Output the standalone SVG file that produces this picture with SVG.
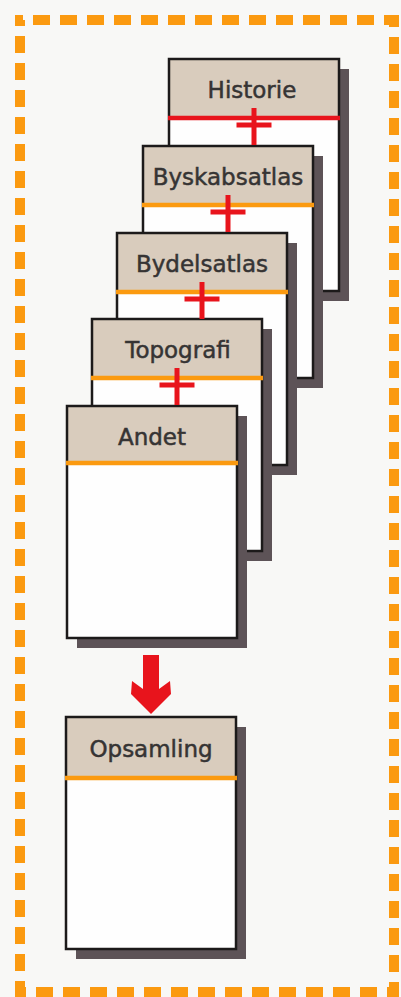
<svg xmlns="http://www.w3.org/2000/svg" width="401" height="997" viewBox="0 0 401 997">
<style>
.bg{fill:#f8f8f6}
.frame{fill:none;stroke:#fb9a10;stroke-width:10;stroke-dasharray:17 10;stroke-dashoffset:14}
.shadow{fill:#5d5357}
.body{fill:#fefefe}
.head{fill:#d9ccbd}
.border{fill:none;stroke:#1c1a1a;stroke-width:2.5}
.hline{stroke:#fb9a10;stroke-width:4.5}
.hline.red{stroke:#e8141c}
.lbl{font-family:"DejaVu Sans","Liberation Sans",sans-serif;font-size:23px;fill:#363434;stroke:#363434;stroke-width:0.5;text-anchor:middle}
.plus{fill:none;stroke:#e8141c;stroke-width:5}
.arrow{fill:#e8141c}
</style>
<rect class="bg" x="0" y="0" width="401" height="997"/>
<rect id="frame" class="frame" x="20" y="20" width="374" height="972"/>

<g id="historie" transform="translate(169,59)">
<rect class="shadow" x="10" y="10" width="170" height="232"/>
<rect class="body" width="170" height="232"/>
<rect class="head" width="170" height="57"/>
<rect class="border" width="170" height="232"/>
<line class="hline red" x1="-1" y1="59" x2="171" y2="59"/>
<text class="lbl" x="83" y="39">Historie</text>
</g>

<g id="byskabsatlas" transform="translate(143,146)">
<rect class="shadow" x="10" y="10" width="170" height="232"/>
<rect class="body" width="170" height="232"/>
<rect class="head" width="170" height="57"/>
<rect class="border" width="170" height="232"/>
<line class="hline" x1="-1" y1="59" x2="171" y2="59"/>
<text class="lbl" x="85" y="39">Byskabsatlas</text>
</g>

<g id="bydelsatlas" transform="translate(117,233)">
<rect class="shadow" x="10" y="10" width="170" height="232"/>
<rect class="body" width="170" height="232"/>
<rect class="head" width="170" height="57"/>
<rect class="border" width="170" height="232"/>
<line class="hline" x1="-1" y1="59" x2="171" y2="59"/>
<text class="lbl" x="85" y="39">Bydelsatlas</text>
</g>

<g id="topografi" transform="translate(92,319)">
<rect class="shadow" x="10" y="10" width="170" height="232"/>
<rect class="body" width="170" height="232"/>
<rect class="head" width="170" height="57"/>
<rect class="border" width="170" height="232"/>
<line class="hline" x1="-1" y1="59" x2="171" y2="59"/>
<text class="lbl" x="86" y="39">Topografi</text>
</g>

<g id="andet" transform="translate(67,406)">
<rect class="shadow" x="10" y="10" width="170" height="232"/>
<rect class="body" width="170" height="232"/>
<rect class="head" width="170" height="57"/>
<rect class="border" width="170" height="232"/>
<line class="hline" x1="-1" y1="57" x2="171" y2="57"/>
<text class="lbl" x="85" y="39">Andet</text>
</g>

<g id="opsamling" transform="translate(66,717)">
<rect class="shadow" x="10" y="10" width="170" height="232"/>
<rect class="body" width="170" height="232"/>
<rect class="head" width="170" height="59"/>
<rect class="border" width="170" height="232"/>
<line class="hline" x1="-1" y1="61" x2="171" y2="61"/>
<text class="lbl" x="85" y="40">Opsamling</text>
</g>

<g id="connectors">
<path class="plus" d="M254,108V145M236.5,125H271.5"/>
<path class="plus" d="M228,195V232M210.5,212H245.5"/>
<path class="plus" d="M202,282V319M184.5,299H219.5"/>
<path class="plus" d="M177,368V405M159.5,385H194.5"/>
<polygon class="arrow" points="143,655 159,655 159,689 170,681 171,694 151,714 131,694 132,681 143,689"/>
</g>
</svg>
